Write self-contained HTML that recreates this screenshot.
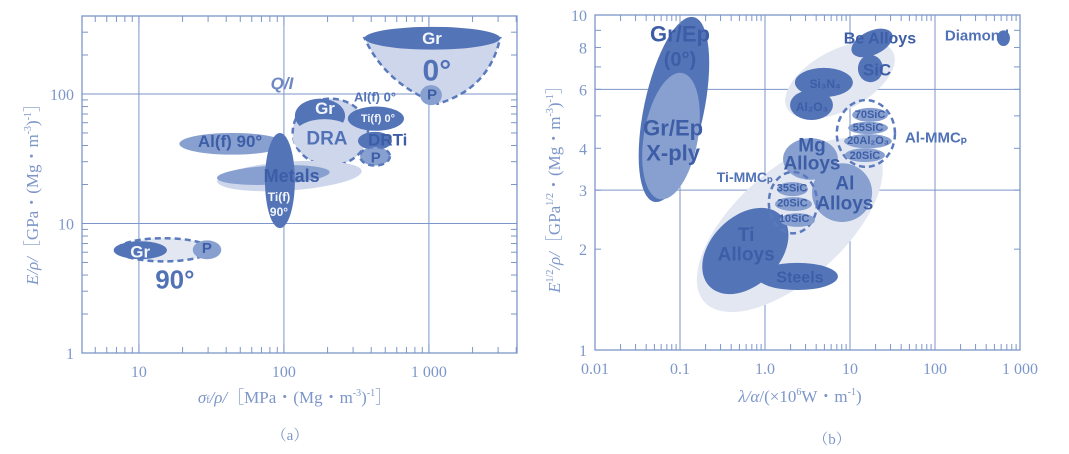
<!DOCTYPE html>
<html><head><meta charset="utf-8"><style>
body{margin:0;background:#fff;width:1069px;height:454px;overflow:hidden}
svg{display:block}
.ax{font-family:"Liberation Serif","Noto Serif CJK SC",serif;fill:#7d96c9}
.lb{font-family:"Liberation Sans",sans-serif;font-weight:bold;text-anchor:middle;dominant-baseline:central}
</style></head><body>
<svg id="s" width="1069" height="454" xmlns="http://www.w3.org/2000/svg"></svg>
<script>
// ---------- Chart (a) data ----------
const aNames=["gr0-dark","p0","dra-region","gr-dra","dra","tif0","drti","p-dra","alf90","metals-light","metals","tif90","region-90","gr90","p90"];
const aX0=[360,870,115,119,115,276,324,335,19,34.5,34.5,74,7.1,6.7,23.5];
const aX1=[3100,1230,380,264,314,673,556,538,102,345,207,119,31,15.6,37];
const aY0=[220,82,28,50,33,52,37,28,34,18,20,9.2,5.1,5.3,5.3];
const aY1=[330,117,92,92,64,80,51,39,50,30,28,50,7.7,7.3,7.4];
const aFill=["d","m","l","d","l","d","d","m","m","l","m","d","p","d","m"];
const aDash=[0,0,1,0,0,0,0,1,0,0,0,0,1,0,0];
const aRot=[0,0,0,0,0,0,0,0,0,-4,-3,0,0,0,0];
const aLabels=["Gr","0°","P","Al(f) 0°","Ti(f) 0°","DRTi","P","Gr","DRA","Al(f) 90°","Metals","Ti(f)","90°","Gr","P","90°","Q/I"];
const aLX=[1050,1135,1050,425,445,520,430,192,198,42.5,113,92.5,92.5,10.2,29.4,17.7,97];
const aLY=[267,150,98,95,64,44,32,77,45,43,23.3,16,12.3,6.0,6.4,3.7,121];
const aLS=[17,30,15,13,11,17,15,17,19,17,18,12,12,17,15,26,17];
const aLC=["w","t","s","t","w","s","s","w","t","s","s","w","w","w","s","t","q"];
const aXT=[10,100,1000], aXTL=["10","100","1 000"];
const aYT=[1,10,100], aYTL=["1","10","100"];
// ---------- Chart (b) data ----------
const bNames=["grep0","grep-xply","ceramics-region","alloys-region","ti-alloys","steels","al-alloys","mg-alloys","ti-mmcp","sic35","sic20","sic10","al-mmcp","sic70","sic55","al2o3-20","sic20-al","si3n4","al2o3","sic","be-alloys","diamond"];
const bX0=[0.0377,0.0377,1.5,0.087,0.15,0.8,3.57,1.63,1.11,1.38,1.31,1.5,7.0,10.6,9.5,8.5,8.7,2.25,1.97,12.4,10,536];
const bX1=[0.191,0.163,38.7,44,2.3,7.2,18.2,7.2,4.1,3.2,3.57,3.87,33.8,28,28,31,25.8,10.8,6.3,24.4,33,762];
const bY0=[2.73,2.8,5.2,1.62,1.56,1.51,2.41,3.22,2.23,2.88,2.6,2.33,3.52,4.8,4.41,4.0,3.64,5.69,4.86,6.3,7.6,8.08];
const bY1=[10,6.76,7.86,3.44,2.5,1.82,3.61,4.29,3.4,3.17,2.86,2.56,5.57,5.28,4.8,4.41,4.0,6.95,5.97,7.6,8.96,9.0];
const bFill=["d","m","p","p","d","d","m","m","n","m","m","m","n","m","m","m","m","d","d","d","d","d"];
const bDash=[0,0,0,0,0,0,0,0,1,0,0,0,1,0,0,0,0,0,0,0,0,0];
const bRot=[12,10,-28,-42,-45,0,0,0,0,0,0,0,0,0,0,0,0,0,0,0,-25,0];
const bLabels=["Gr/Ep","(0°)","Gr/Ep","X-ply","Be Alloys","Diamond","SiC","Si₃N₄","Al₂O₃","70SiC","55SiC","20Al₂O₃","20SiC","Al-MMCₚ","Mg","Alloys","Ti-MMCₚ","Al","Alloys","35SiC","20SiC","10SiC","Ti","Alloys","Steels"];
const bLX=[0.1,0.1,0.083,0.083,22.5,312,20.8,5.1,3.57,17.2,16.3,16.3,15.0,103,3.57,3.57,0.58,8.7,8.7,2.08,2.1,2.2,0.6,0.6,2.58];
const bLY=[8.77,7.34,4.6,3.87,8.48,8.67,6.85,6.22,5.31,5.03,4.6,4.21,3.79,4.3,4.06,3.59,3.28,3.13,2.73,3.03,2.74,2.46,2.2,1.92,1.64];
const bLS=[22,20,22,22,16,15,17,12,12,11,11,11,11,15,19,19,14,19,19,11,11,11,19,19,16];
const bLC=["s","s","s","s","s","t","s","s","s","s","s","s","s","t","s","s","t","s","s","s","s","s","s","s","s"];
const bXT=[0.01,0.1,1,10,100,1000], bXTL=["0.01","0.1","1.0","10","100","1 000"];
const bYT=[1,2,3,4,6,8,10], bYTL=["1","2","3","4","6","8","10"];
const bGridY=[3,6], bGridX=[0.1,1,10,100];

const NS="http://www.w3.org/2000/svg", S=document.getElementById('s');
const COL={d:"#5474b8",m:"#88a0d0",l:"#cdd6ea",p:"#e2e7f1",n:"none"};
const AX="#7d96c9";
function mk(t,a,p){const e=document.createElementNS(NS,t);for(const k in a)e.setAttribute(k,a[k]);(p||S).appendChild(e);return e;}
function logAxis(v0,v1,p0,p1){const l0=Math.log10(v0),l1=Math.log10(v1);return v=>p0+(Math.log10(v)-l0)/(l1-l0)*(p1-p0);}

function chart(o){
  const g=mk('g',{});
  
  
  const {L,R,T,B,xa,ya}=o;
  o.gx.forEach(v=>{const l=mk('line',{x1:xa(v),x2:xa(v),y1:T,y2:B,stroke:AX,'stroke-width':1},g);});
  o.gy.forEach(v=>{const l=mk('line',{x1:L,x2:R,y1:ya(v),y2:ya(v),stroke:AX,'stroke-width':1},g);});
  const rg=mk('g',{},g);
  
  
  if(o.pre)o.pre(rg);
  o.names.forEach((n,i)=>{
    const x0=xa(o.x0[i]),x1=xa(o.x1[i]),y0=ya(o.y0[i]),y1=ya(o.y1[i]);
    const cx=(x0+x1)/2,cy=(y0+y1)/2;
    const e=mk('ellipse',{cx:cx,cy:cy,rx:Math.abs(x1-x0)/2,ry:Math.abs(y1-y0)/2,fill:COL[o.fill[i]],
      stroke:o.dash[i]?"#5a7abd":"none",'stroke-width':o.dash[i]?2.5:0,'stroke-dasharray':o.dash[i]?"6 4":"none",
      transform:`rotate(${o.rot[i]} ${cx} ${cy})`},rg);
    
    
  });
  o.lab.forEach((t,i)=>{
    const c=o.lc[i];
    let fill="#5272b7";
    if(c==="w")fill="#f2f5fb";
    if(c==="q")fill="#6d88c2";
    if(c==="s")fill="#3d5ea6";
    const tx=mk('text',{x:xa(o.lx[i]),y:ya(o.ly[i]),class:'lb','font-size':o.ls[i],fill:fill,'font-style':c==="q"?"italic":"normal",'font-weight':c==="q"?"normal":"bold"},g);
    if(c==="q")tx.setAttribute('font-family','Liberation Serif, serif');
    tx.textContent=t;
    
    
  });
  const f=mk('rect',{x:L,y:T,width:R-L,height:B-T,fill:'none',stroke:AX,'stroke-width':1.3},g);
  
  
  function minor(v0,v1){const r=[];for(let d=Math.floor(Math.log10(v0));d<=Math.ceil(Math.log10(v1));d++)for(let k=1;k<10;k++){const v=k*Math.pow(10,d);if(v>=v0*0.999&&v<=v1*1.001)r.push([v,k===1]);}return r;}
  minor(o.xr[0],o.xr[1]).forEach(([v,maj])=>{const x=xa(v),len=maj?9:6;
    mk('line',{x1:x,x2:x,y1:B,y2:B-len,stroke:AX},g);mk('line',{x1:x,x2:x,y1:T,y2:T+len,stroke:AX},g);});
  minor(o.yr[0],o.yr[1]).forEach(([v,maj])=>{const y=ya(v),len=maj?9:6;
    mk('line',{x1:L,x2:L+len,y1:y,y2:y,stroke:AX},g);mk('line',{x1:R,x2:R-len,y1:y,y2:y,stroke:AX},g);});
  o.xt.forEach((v,i)=>{const t=mk('text',{x:xa(v),y:B+24,class:'ax','font-size':16,'text-anchor':'middle'},g);t.textContent=o.xtl[i];
    
    });
  o.yt.forEach((v,i)=>{const t=mk('text',{x:L-8,y:ya(v)+6,class:'ax','font-size':16,'text-anchor':'end'},g);t.textContent=o.ytl[i];
    
    });
  return g;
}

const axA=logAxis(4.05,4050,82,517), ayA=logAxis(1,400,353,16);
chart({name:'chart-a',L:82,R:517,T:16,B:353,xa:axA,ya:ayA,xr:[4.05,4050],yr:[1,400],
  gx:[10,100,1000],gy:[10,100],names:aNames,x0:aX0,x1:aX1,y0:aY0,y1:aY1,fill:aFill,dash:aDash,rot:aRot,
  lab:aLabels,lx:aLX,ly:aLY,ls:aLS,lc:aLC,xt:aXT,xtl:aXTL,yt:aYT,ytl:aYTL,
  pre:g=>{const p=mk('path',{d:`M${axA(360)},${ayA(270)} L${axA(3100)},${ayA(270)} Q${axA(2600)},${ayA(110)} ${axA(1150)},${ayA(84)} Q${axA(500)},${ayA(120)} ${axA(360)},${ayA(270)} Z`,
    fill:COL.l,stroke:"#5a7abd",'stroke-width':2.5,'stroke-dasharray':"6 4"},g);
    
    }});
const axB=logAxis(0.01,1000,595,1020), ayB=logAxis(1,10,350,15);
chart({name:'chart-b',L:595,R:1020,T:15,B:350,xa:axB,ya:ayB,xr:[0.01,1000],yr:[1,10],
  gx:bGridX,gy:bGridY,names:bNames,x0:bX0,x1:bX1,y0:bY0,y1:bY1,fill:bFill,dash:bDash,rot:bRot,
  lab:bLabels,lx:bLX,ly:bLY,ls:bLS,lc:bLC,xt:bXT,xtl:bXTL,yt:bYT,ytl:bYTL});

function txt(s,a,name){const t=mk('text',a);t.innerHTML=s;return t;}
txt('<tspan font-style="italic">σ</tspan><tspan font-size="10">f</tspan><tspan font-style="italic">/ρ/</tspan>［MPa・(Mg・m<tspan font-size="10" dy="-7">-3</tspan><tspan dy="7">)</tspan><tspan font-size="10" dy="-7">-1</tspan><tspan dy="7">］</tspan>',
 {x:295,y:403,class:'ax','font-size':17,'text-anchor':'middle'},'x-axis-title-a');
txt('<tspan font-style="italic">E/ρ/</tspan>［GPa・(Mg・m<tspan font-size="10" dy="-7">-3</tspan><tspan dy="7">)</tspan><tspan font-size="10" dy="-7">-1</tspan><tspan dy="7">］</tspan>',
 {x:0,y:0,class:'ax','font-size':17,'text-anchor':'middle',transform:'translate(38,190) rotate(-90)'},'y-axis-title-a');
txt('（a）',{x:290,y:440,class:'ax','font-size':15,'text-anchor':'middle'},'caption-a');
txt('<tspan font-style="italic">λ/α</tspan>/(×10<tspan font-size="10" dy="-7">6</tspan><tspan dy="7">W・m</tspan><tspan font-size="10" dy="-7">-1</tspan><tspan dy="7">)</tspan>',
 {x:800,y:402,class:'ax','font-size':17,'text-anchor':'middle'},'x-axis-title-b');
txt('<tspan font-style="italic">E</tspan><tspan font-size="10" dy="-7">1/2</tspan><tspan dy="7" font-style="italic">/ρ/</tspan>［GPa<tspan font-size="10" dy="-7">1/2</tspan><tspan dy="7">・(Mg・m</tspan><tspan font-size="10" dy="-7">-3</tspan><tspan dy="7">)</tspan><tspan font-size="10" dy="-7">-1</tspan><tspan dy="7">］</tspan>',
 {x:0,y:0,class:'ax','font-size':17,'text-anchor':'middle',transform:'translate(560,185) rotate(-90)'},'y-axis-title-b');
txt('（b）',{x:832,y:444,class:'ax','font-size':15,'text-anchor':'middle'},'caption-b');
</script>
</body></html>
